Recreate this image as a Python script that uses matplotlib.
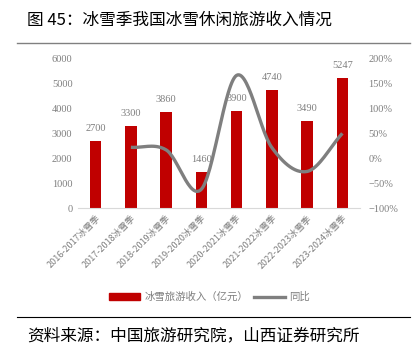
import numpy as np
import matplotlib.pyplot as plt
from matplotlib.lines import Line2D
from matplotlib.patches import Patch

plt.rcParams['font.family'] = ['Noto Sans CJK SC', 'DejaVu Sans']

seasons = ['2016-2017冰雪季', '2017-2018冰雪季', '2018-2019冰雪季', '2019-2020冰雪季',
           '2020-2021冰雪季', '2021-2022冰雪季', '2022-2023冰雪季', '2023-2024冰雪季']
income = [2700, 3300, 3860, 1460, 3900, 4740, 3490, 5247]
# yoy, %, first season has none
yoy = [None, 22.2, 17.0, -62.2, 167.1, 21.5, -26.4, 50.3]

left_ticks = [0, 1000, 2000, 3000, 4000, 5000, 6000]
right_ticks = [-100, -50, 0, 50, 100, 150, 200]

red = '#C00000'
gray = '#7f7f7f'
txt = '#7f7f7f'
num_font = 'Liberation Serif'


def catmull(xs, ys, n=30):
    # smooth curve like excel's smoothed line
    xs = np.asarray(xs, float)
    ys = np.asarray(ys, float)
    px = np.concatenate([[2 * xs[0] - xs[1]], xs, [2 * xs[-1] - xs[-2]]])
    py = np.concatenate([[2 * ys[0] - ys[1]], ys, [2 * ys[-1] - ys[-2]]])
    ox, oy = [], []
    for i in range(1, len(px) - 2):
        t = np.linspace(0, 1, n)
        for p, o in ((px, ox), (py, oy)):
            p0, p1, p2, p3 = p[i - 1], p[i], p[i + 1], p[i + 2]
            c1 = p1 + (p2 - p0) / 6
            c2 = p2 - (p3 - p1) / 6
            o.extend((1 - t) ** 3 * p1 + 3 * (1 - t) ** 2 * t * c1 + 3 * (1 - t) * t ** 2 * c2 + t ** 3 * p2)
    return ox, oy


fig = plt.figure(figsize=(4.19, 3.54), dpi=100)
ax = fig.add_axes([78 / 419, 1 - 208 / 354, 282 / 419, 149 / 354])
x = np.arange(len(seasons))
ax.bar(x, income, width=0.32, color=red, zorder=2)
for xi, v in zip(x, income):
    ax.text(xi, v + 330, str(v), ha='center', va='bottom', fontsize=7.5,
            family=num_font, color=txt)

ax.set_xlim(-0.5, len(seasons) - 0.5)
ax.set_ylim(0, 6000)
ax.set_yticks(left_ticks)
ax.set_yticklabels([str(t) for t in left_ticks], family=num_font, fontsize=7.5, color=txt)
ax.set_xticks(x)
ax.set_xticklabels(seasons, rotation=45, ha='right', rotation_mode='anchor',
                   fontsize=6.5, color=txt)
ax.tick_params(length=0, pad=4)
for s in ['top', 'right', 'left']:
    ax.spines[s].set_visible(False)
ax.spines['bottom'].set_color('#d9d9d9')

ax2 = ax.twinx()
xs = [i for i, v in zip(x, yoy) if v is not None]
ys = [v for v in yoy if v is not None]
cx, cy = catmull(xs, ys)
ax2.plot(cx, cy, color=gray, lw=2.4, zorder=3, solid_capstyle='butt')
ax2.set_ylim(-100, 200)
ax2.set_yticks(right_ticks)
ax2.set_yticklabels([f'{t}%'.replace('-', '\u2212') for t in right_ticks],
                    family=num_font, fontsize=7.5, color=txt)
ax2.tick_params(length=0, pad=6)
for s in ax2.spines.values():
    s.set_visible(False)

handles = [Patch(color=red), Line2D([], [], color=gray, lw=2.4)]
fig.legend(handles, ['冰雪旅游收入（亿元）', '同比'], loc='center',
           bbox_to_anchor=(0.5, 1 - 297 / 354), ncol=2, frameon=False,
           fontsize=7.5, labelcolor=txt, handlelength=3.0, handleheight=0.6,
           columnspacing=0.6, handletextpad=0.4)

fig.text(27 / 419, 1 - 20 / 354, '图 45：冰雪季我国冰雪休闲旅游收入情况', fontsize=12,
         va='center', ha='left', color='black')
fig.add_artist(Line2D([17 / 419, 410 / 419], [1 - 43 / 354] * 2, color='#808080', lw=1))
fig.add_artist(Line2D([17 / 419, 410 / 419], [1 - 317 / 354] * 2, color='black', lw=0.8))
fig.text(27 / 419, 1 - 336 / 354, '资料来源：中国旅游研究院，山西证券研究所', fontsize=12,
         va='center', ha='left', color='black')

fig.savefig('out.png', dpi=100)
